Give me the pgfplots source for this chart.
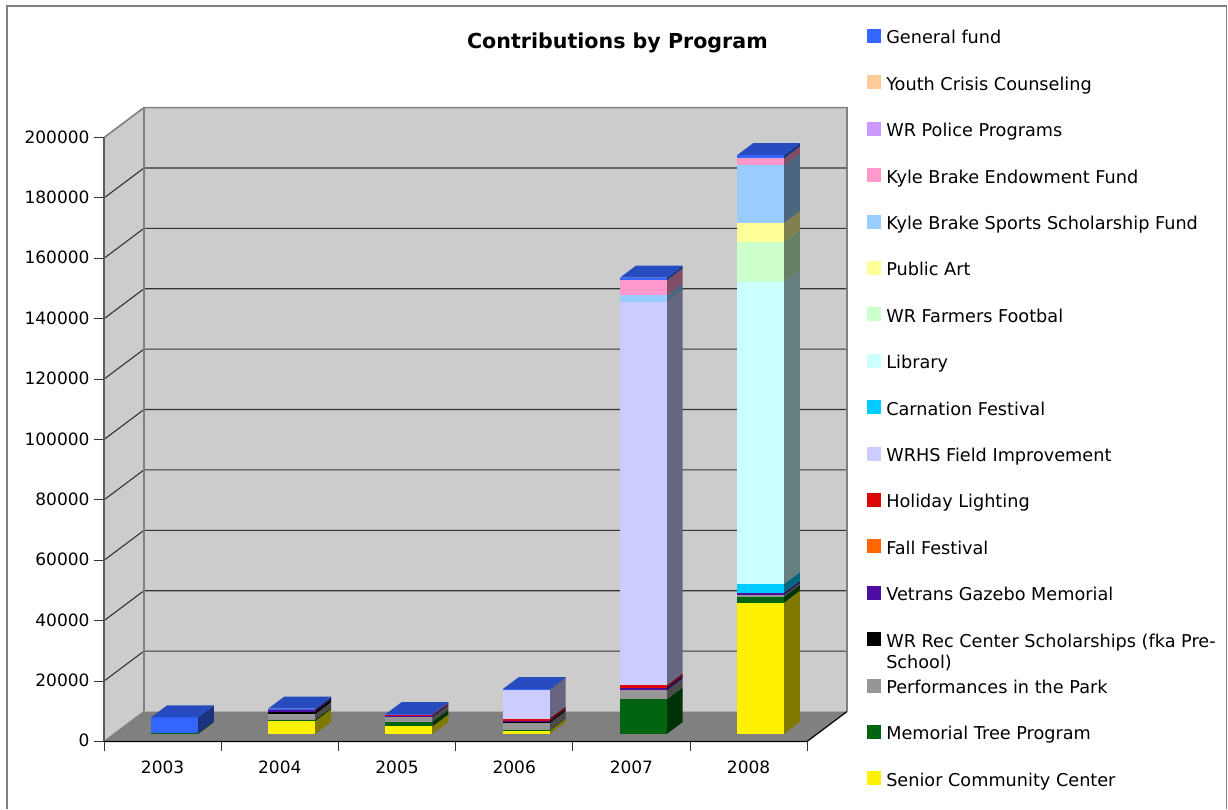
\documentclass[border=0pt]{standalone}
\usepackage{fontspec}
\setmainfont{DejaVu Sans}
\usepackage{pgfplots}
\pgfplotsset{compat=1.18}
\definecolor{general}{HTML}{3366FF}
\definecolor{youth}{HTML}{FFCC99}
\definecolor{police}{HTML}{CC99FF}
\definecolor{endow}{HTML}{FF99CC}
\definecolor{sports}{HTML}{99CCFF}
\definecolor{art}{HTML}{FFFF99}
\definecolor{farmers}{HTML}{CCFFCC}
\definecolor{library}{HTML}{CCFFFF}
\definecolor{carnation}{HTML}{00CCFF}
\definecolor{wrhs}{HTML}{CCCCFF}
\definecolor{holiday}{HTML}{DD0806}
\definecolor{fall}{HTML}{FF6600}
\definecolor{vetrans}{HTML}{4E0CA0}
\definecolor{rec}{HTML}{000000}
\definecolor{perf}{HTML}{969696}
\definecolor{memorial}{HTML}{006411}
\definecolor{senior}{HTML}{FFF200}
\definecolor{wall}{HTML}{CCCCCC}
\definecolor{floorc}{HTML}{808080}
\definecolor{grid}{HTML}{333333}
% one bar: \startbar{category index}, \seg{value}{colour} from the bottom up, \topface{colour}
\newcommand\startbar[1]{%
  \gdef\cum{2484}%
  \pgfmathsetmacro\xa{#1+0.4015}\global\let\xa\xa
  \pgfmathsetmacro\xb{#1+0.8015}\global\let\xb\xb
  \pgfmathsetmacro\xc{#1+0.9380}\global\let\xc\xc
  \pgfmathsetmacro\xd{#1+0.5380}\global\let\xd\xd}
\newcommand\seg[2]{%
  \edef\yb{\the\numexpr\cum+#1\relax}%
  \edef\yad{\the\numexpr\cum+3973\relax}%
  \edef\ybd{\the\numexpr\yb+3973\relax}%
  \edef\temp{\noexpand\addplot[fill=#2!50!black,draw=none,forget plot] coordinates {(\xb,\cum)(\xc,\yad)(\xc,\ybd)(\xb,\yb)} --cycle;
    \noexpand\addplot[fill=#2,draw=none,forget plot] coordinates {(\xa,\cum)(\xb,\cum)(\xb,\yb)(\xa,\yb)} --cycle;}%
  \temp
  \xdef\cum{\yb}}
\newcommand\topface[1]{%
  \edef\ybd{\the\numexpr\cum+3973\relax}%
  \edef\temp{\noexpand\addplot[fill=#1!75!black,draw=none,forget plot] coordinates {(\xa,\cum)(\xb,\cum)(\xc,\ybd)(\xd,\ybd)} --cycle;}%
  \temp}
\begin{document}
\begin{tikzpicture}[x=1pt,y=1pt]
\fill[white] (0,0) rectangle (1228,809);
\draw[floorc,line width=1.6pt] (7,0) -- (7,803) -- (1226.5,803) -- (1226.5,0);
\begin{axis}[
  at={(104pt,67.5pt)}, anchor=south west,
  scale only axis, width=743pt, height=634.5pt,
  xmin=0, xmax=6.3396, ymin=0, ymax=210132,
  clip=false, no markers,
  axis x line*=bottom, axis y line*=left,
  axis line style={draw=none},
  xtick={0,1,2,3,4,5,6},
  xticklabels={2003,2004,2005,2006,2007,2008},
  x tick label as interval,
  ytick={0,20000,40000,60000,80000,100000,120000,140000,160000,180000,200000},
  scaled y ticks=false,
  /pgf/number format/fixed,
  /pgf/number format/precision=0,
  /pgf/number format/1000 sep={},
  /pgf/number format/assume math mode=true,
  tick align=outside, major tick length=10pt,
  tick style={color=grid,line width=1pt},
  tick label style={font=\fontsize{17}{20}\selectfont},
  xticklabel style={yshift=-6pt},
  yticklabel style={xshift=-1pt,yshift=0.7pt},
  title={\fontsize{20.6}{24}\selectfont\bfseries Contributions by Program},
  title style={at={(axis description cs:0.691,1.0914)},anchor=center},
  legend image code/.code={\fill[#1,draw=none] (0pt,-3pt) rectangle (14pt,11pt);},
  legend style={at={(axis description cs:1.027,1.1233)},anchor=north west,
    draw=none,fill=none,inner sep=0pt,row sep=27.4pt,
    legend cell align=left,
    nodes={inner sep=0pt,text height=12pt,text depth=4pt,
      font=\fontsize{17.67}{21}\selectfont},
    /tikz/every odd column/.append style={column sep=5pt}},
]
% walls and floor
\addplot[fill=wall,draw=none,forget plot] coordinates {(0,0)(0.3413,9934)(0.3413,209934)(0,200000)} --cycle;
\addplot[fill=wall,draw=none,forget plot] coordinates {(0.3413,9934)(6.3396,9934)(6.3396,209934)(0.3413,209934)} --cycle;
\addplot[fill=floorc,draw=none,forget plot] coordinates {(0,0)(5.9983,0)(6.3396,9934)(0.3413,9934)} --cycle;
% grid lines
\pgfplotsinvokeforeach{20000,40000,60000,80000,100000,120000,140000,160000,180000}{
  \edef\temp{\the\numexpr#1+9934\relax}
  \edef\tempb{\noexpand\addplot[color=grid,line width=1.1pt,forget plot] coordinates {(0,#1)(0.3413,\temp)(6.3396,\temp)};}
  \tempb
}
% frame lines
\addplot[color=floorc,line width=1.6pt,forget plot] coordinates {(0,200000)(0.3413,209934)(6.3396,209934)(6.3396,9934)};
\addplot[color=floorc,line width=1.6pt,forget plot] coordinates {(0.3413,209934)(0.3413,9934)};
\addplot[color=floorc,line width=1.2pt,forget plot] coordinates {(0,0)(0.3413,9934)};
\addplot[color=grid!80,line width=1.6pt,forget plot] coordinates {(0,0)(0,200000)};
\addplot[color=black,line width=1.2pt,forget plot] coordinates {(0,0)(5.9983,0)(6.3396,9934)};
% 2003
\startbar{0}
\seg{300}{memorial}
\seg{5200}{general}
\topface{general}
% 2004
\startbar{1}
\seg{4300}{senior}
\seg{460}{memorial}
\seg{1850}{perf}
\seg{790}{rec}
\seg{660}{vetrans}
\seg{330}{general}
\topface{general}
% 2005
\startbar{2}
\seg{2540}{senior}
\seg{1520}{memorial}
\seg{1550}{perf}
\seg{440}{vetrans}
\seg{220}{holiday}
\seg{220}{police}
\seg{60}{general}
\topface{general}
% 2006
\startbar{3}
\seg{1090}{senior}
\seg{230}{memorial}
\seg{2310}{perf}
\seg{440}{rec}
\seg{300}{vetrans}
\seg{760}{holiday}
\seg{9500}{wrhs}
\seg{220}{general}
\topface{general}
% 2007
\startbar{4}
\seg{11490}{memorial}
\seg{2980}{perf}
\seg{890}{vetrans}
\seg{760}{holiday}
\seg{126900}{wrhs}
\seg{2220}{sports}
\seg{4970}{endow}
\seg{890}{general}
\topface{general}
% 2008
\startbar{5}
\seg{43480}{senior}
\seg{1990}{memorial}
\seg{560}{perf}
\seg{660}{vetrans}
\seg{2980}{carnation}
\seg{99990}{library}
\seg{13340}{farmers}
\seg{6190}{art}
\seg{19200}{sports}
\seg{2200}{endow}
\seg{1090}{general}
\topface{general}
% legend
\addlegendimage{fill=general}\addlegendentry{General fund}
\addlegendimage{fill=youth}\addlegendentry{Youth Crisis Counseling}
\addlegendimage{fill=police}\addlegendentry{WR Police Programs}
\addlegendimage{fill=endow}\addlegendentry{Kyle Brake Endowment Fund}
\addlegendimage{fill=sports}\addlegendentry{Kyle Brake Sports Scholarship Fund}
\addlegendimage{fill=art}\addlegendentry{Public Art}
\addlegendimage{fill=farmers}\addlegendentry{WR Farmers Footbal}
\addlegendimage{fill=library}\addlegendentry{Library}
\addlegendimage{fill=carnation}\addlegendentry{Carnation Festival}
\addlegendimage{fill=wrhs}\addlegendentry{WRHS Field Improvement}
\addlegendimage{fill=holiday}\addlegendentry{Holiday Lighting}
\addlegendimage{fill=fall}\addlegendentry{Fall Festival}
\addlegendimage{fill=vetrans}\addlegendentry{Vetrans Gazebo Memorial}
\addlegendimage{fill=rec}\addlegendentry{\parbox[t]{330pt}{\baselineskip=21pt WR Rec Center Scholarships (fka Pre-\\School)}}
\addlegendimage{fill=perf}\addlegendentry{Performances in the Park}
\addlegendimage{fill=memorial}\addlegendentry{Memorial Tree Program}
\addlegendimage{fill=senior}\addlegendentry{Senior Community Center}
\end{axis}
\end{tikzpicture}
\end{document}
